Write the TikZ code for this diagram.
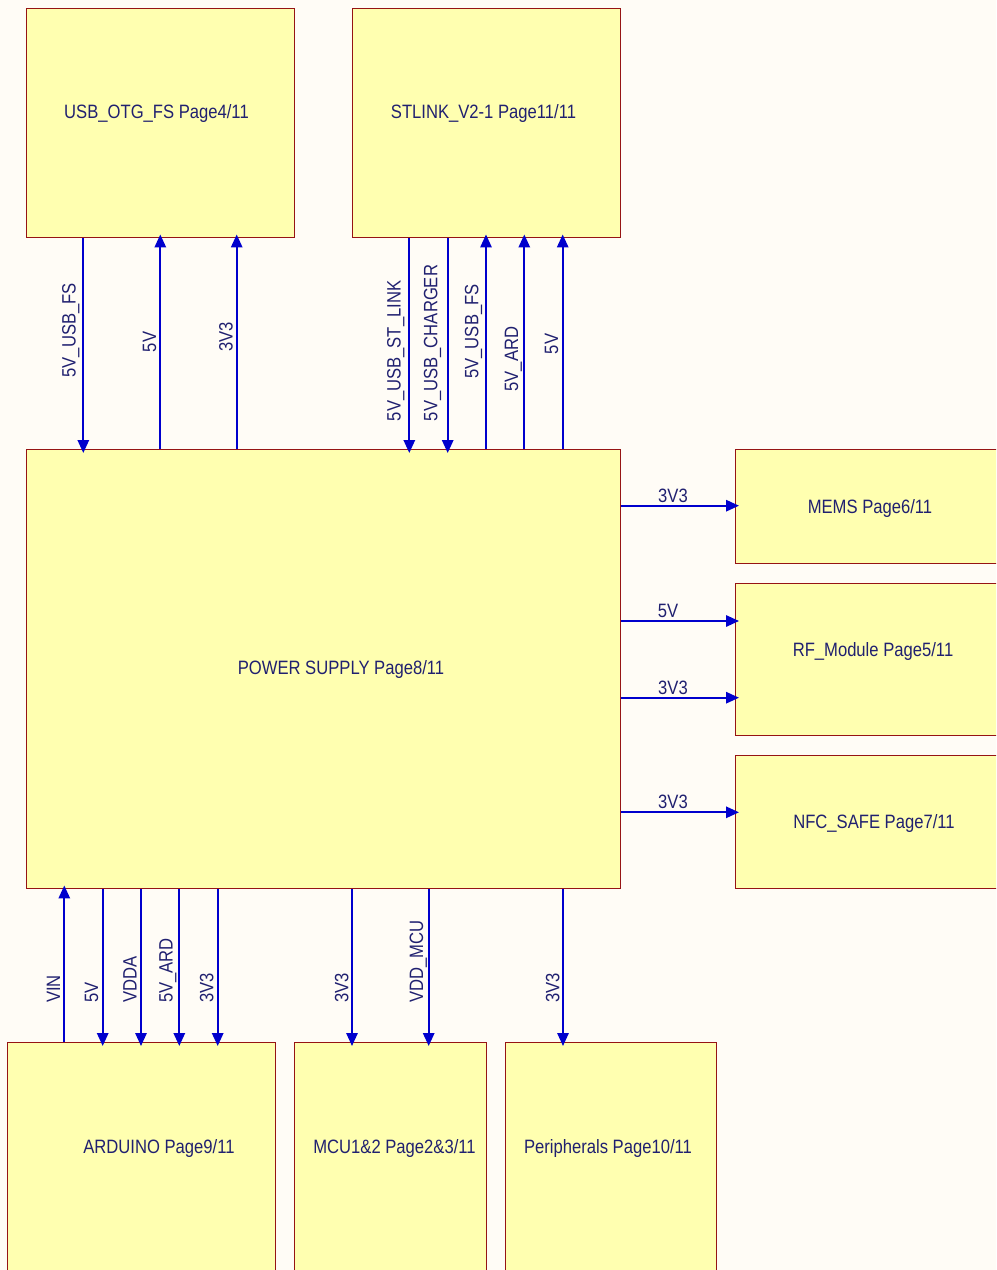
\documentclass[tikz,border=0pt]{standalone}
\usepackage{fontspec}
\setmainfont[FakeStretch=0.86]{Liberation Sans}
\usetikzlibrary{arrows.meta}
\definecolor{bg}{RGB}{255,252,246}
\definecolor{boxfill}{RGB}{255,255,176}
\definecolor{boxline}{RGB}{150,20,20}
\definecolor{txt}{RGB}{32,32,112}
\definecolor{wire}{RGB}{0,0,205}
\begin{document}
\begin{tikzpicture}[x=0.75pt,y=-0.75pt,
  blk/.style={draw=boxline, fill=boxfill, line width=1.1pt, inner sep=0pt, anchor=north west},
  blabel/.style={text=txt, font=\fontsize{14.5}{17}\selectfont, inner sep=0pt, anchor=base},
  wlabel/.style={text=txt, font=\fontsize{14.5}{17}\selectfont, inner sep=0pt, rotate=90},
  arr/.style={draw=wire, line width=1.5pt, -{Triangle[length=9.75pt,width=8.5pt]}, shorten >=-3pt}]
\useasboundingbox (0,0) rectangle (996,1270);
\clip (0,0) rectangle (996,1270);
\fill[bg] (0,0) rectangle (996,1270);

% blocks
\node[blk, minimum width=201pt, minimum height=171.75pt] (usb) at (26,8) {};
\node[blk, minimum width=201pt, minimum height=171.75pt] (stl) at (352,8) {};
\node[blk, minimum width=445.5pt, minimum height=329.25pt] (ps) at (26,449) {};
\node[blk, minimum width=206.25pt, minimum height=85.5pt] (mems) at (735,449) {};
\node[blk, minimum width=206.25pt, minimum height=114pt] (rf) at (735,583) {};
\node[blk, minimum width=206.25pt, minimum height=99.75pt] (nfc) at (735,755) {};
\node[blk, minimum width=201pt, minimum height=186pt] (ard) at (7,1042) {};
\node[blk, minimum width=144pt, minimum height=186pt] (mcu) at (294,1042) {};
\node[blk, minimum width=158.25pt, minimum height=186pt] (per) at (505,1042) {};

% block labels
\node[blabel] (usbT) at (156.5,118) {USB\_OTG\_FS Page4/11};
\node[blabel] (stlT) at (483.5,118) {STLINK\_V2-1 Page11/11};
\node[blabel] (psT) at (341,674) {POWER SUPPLY Page8/11};
\node[blabel] (memsT) at (870,513) {MEMS Page6/11};
\node[blabel] (rfT) at (873,656) {RF\_Module Page5/11};
\node[blabel] (nfcT) at (874,828) {NFC\_SAFE Page7/11};
\node[blabel] (ardT) at (159,1153) {ARDUINO Page9/11};
\node[blabel] (mcuT) at (394.5,1153) {MCU1\&2 Page2\&3/11};
\node[blabel] (perT) at (608,1153) {Peripherals Page10/11};

% top-left wires
\draw[arr] (usb.south -| 83.3,0) -- (ps.north -| 83.3,0);
\draw[arr] (ps.north -| 160.3,0) -- (usb.south -| 160.3,0);
\draw[arr] (ps.north -| 236.7,0) -- (usb.south -| 236.7,0);
\node[wlabel, anchor=base] (l1) at (75.7,330.3) {5V\_USB\_FS};
\node[wlabel, anchor=base] (l2) at (156,342) {5V};
\node[wlabel, anchor=base] (l3) at (232.5,337) {3V3};

% top-right wires
\draw[arr] (stl.south -| 409.3,0) -- (ps.north -| 409.3,0);
\draw[arr] (stl.south -| 447.7,0) -- (ps.north -| 447.7,0);
\draw[arr] (ps.north -| 486,0) -- (stl.south -| 486,0);
\draw[arr] (ps.north -| 524.3,0) -- (stl.south -| 524.3,0);
\draw[arr] (ps.north -| 562.7,0) -- (stl.south -| 562.7,0);
\node[wlabel, anchor=base] (l4) at (400.7,351) {5V\_USB\_ST\_LINK};
\node[wlabel, anchor=base] (l5) at (437.3,343) {5V\_USB\_CHARGER};
\node[wlabel, anchor=base] (l6) at (478.3,331.5) {5V\_USB\_FS};
\node[wlabel, anchor=base] (l7) at (518,359) {5V\_ARD};
\node[wlabel, anchor=base] (l8) at (558,344) {5V};

% right wires
\draw[arr] (ps.east |- 0,505.7) -- (mems.west |- 0,505.7);
\draw[arr] (ps.east |- 0,621) -- (rf.west |- 0,621);
\draw[arr] (ps.east |- 0,697.7) -- (rf.west |- 0,697.7);
\draw[arr] (ps.east |- 0,812.3) -- (nfc.west |- 0,812.3);
\node[blabel] (r1) at (673,502) {3V3};
\node[blabel] (r2) at (668,617) {5V};
\node[blabel] (r3) at (673,694) {3V3};
\node[blabel] (r4) at (673,808.5) {3V3};

% bottom wires
\draw[arr] (ard.north -| 64.3,0) -- (ps.south -| 64.3,0);
\draw[arr] (ps.south -| 102.7,0) -- (ard.north -| 102.7,0);
\draw[arr] (ps.south -| 141,0) -- (ard.north -| 141,0);
\draw[arr] (ps.south -| 179.3,0) -- (ard.north -| 179.3,0);
\draw[arr] (ps.south -| 217.7,0) -- (ard.north -| 217.7,0);
\draw[arr] (ps.south -| 352,0) -- (mcu.north -| 352,0);
\draw[arr] (ps.south -| 428.7,0) -- (mcu.north -| 428.7,0);
\draw[arr] (ps.south -| 563,0) -- (per.north -| 563,0);
\node[wlabel, anchor=base west] (b1) at (60,1003) {VIN};
\node[wlabel, anchor=base west] (b2) at (98.2,1003) {5V};
\node[wlabel, anchor=base west] (b3) at (136.7,1003) {VDDA};
\node[wlabel, anchor=base west] (b4) at (172.5,1003) {5V\_ARD};
\node[wlabel, anchor=base west] (b5) at (213.3,1003) {3V3};
\node[wlabel, anchor=base west] (b6) at (348.3,1003) {3V3};
\node[wlabel, anchor=base west] (b7) at (423,1003) {VDD\_MCU};
\node[wlabel, anchor=base west] (b8) at (559.3,1003) {3V3};
\end{tikzpicture}
\end{document}
